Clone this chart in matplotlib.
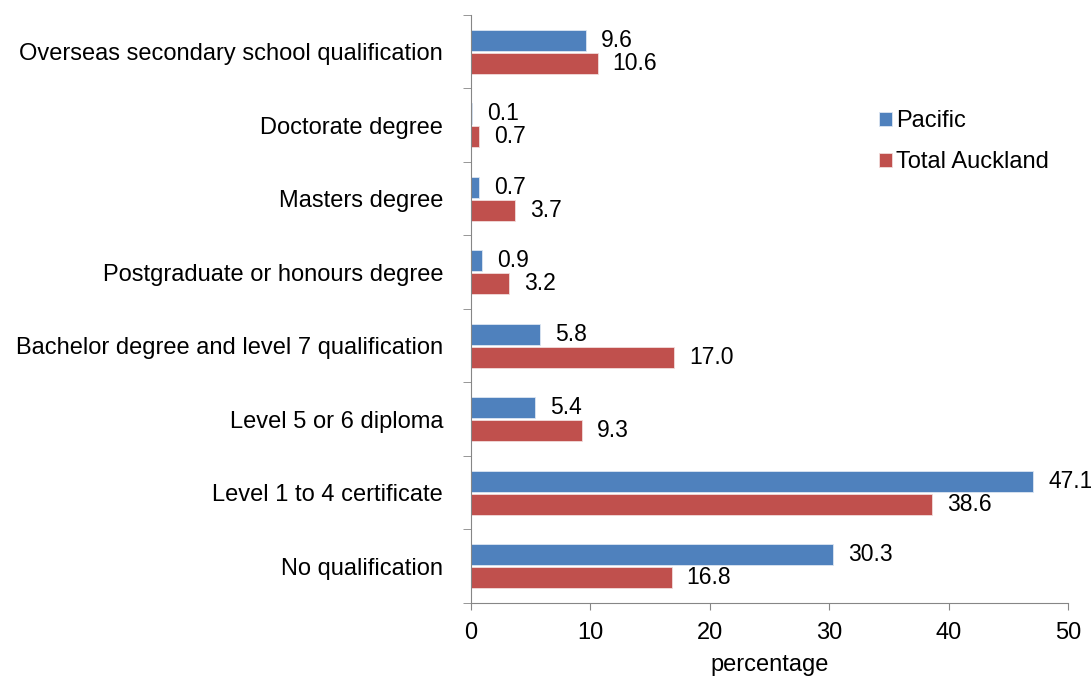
import matplotlib
matplotlib.use("Agg")
import matplotlib.pyplot as plt
import numpy as np

plt.rcParams['font.family'] = ['Liberation Sans', 'DejaVu Sans']

categories = ["No qualification", "Level 1 to 4 certificate", "Level 5 or 6 diploma",
              "Bachelor degree and level 7 qualification", "Postgraduate or honours degree",
              "Masters degree", "Doctorate degree", "Overseas secondary school qualification"]
pacific = [30.3, 47.1, 5.4, 5.8, 0.9, 0.7, 0.1, 9.6]
auckland = [16.8, 38.6, 9.3, 17.0, 3.2, 3.7, 0.7, 10.6]
series_names = ["Pacific", "Total Auckland"]
xticks = [0, 10, 20, 30, 40, 50]

fig = plt.figure(figsize=(10.91, 6.79), dpi=100)
ax = fig.add_axes([0.4317, 0.112, 0.979 - 0.4317, 0.978 - 0.112])

y = np.arange(len(categories))
h = 0.285
off = h / 2 + 0.014
blue = '#4F81BD'
red = '#C0504D'
b1 = ax.barh(y + off, pacific, height=h, color=blue, edgecolor='#DCE6F2', linewidth=0.6, label=series_names[0])
b2 = ax.barh(y - off, auckland, height=h, color=red, edgecolor='#F2DCDB', linewidth=0.6, label=series_names[1])

fs = 17
for bars, vals in ((b1, pacific), (b2, auckland)):
    for bar, v in zip(bars, vals):
        ax.annotate(f"{v:.1f}", (bar.get_width(), bar.get_y() + bar.get_height() / 2),
                    xytext=(15, 0), textcoords='offset pixels',
                    ha='left', va='center', fontsize=16.5, color='black')

ax.set_xlim(0, 50)
ax.set_ylim(-0.5, len(categories) - 0.5)
ax.set_xticks(xticks)
ax.set_xticklabels([str(t) for t in xticks], fontsize=fs)
ax.set_yticks(y)
ax.set_yticklabels(categories, fontsize=fs)
ax.set_yticks(np.arange(-0.5, len(categories), 1.0), minor=True)
ax.tick_params(axis='y', which='major', length=0, pad=20)
ax.tick_params(axis='y', which='minor', length=6, color='#868686', direction='out')
ax.tick_params(axis='x', which='major', length=5, color='#868686', direction='out', pad=9)
for s in ('top', 'right'):
    ax.spines[s].set_visible(False)
for s in ('left', 'bottom'):
    ax.spines[s].set_color('#868686')
ax.set_xlabel('percentage', fontsize=fs, labelpad=7)

leg = ax.legend(loc='upper left', bbox_to_anchor=(0.647, 0.874), frameon=False, fontsize=fs,
                handlelength=0.55, handleheight=0.55, handletextpad=0.2, labelspacing=0.8)

fig.savefig('out.png', dpi=100)
